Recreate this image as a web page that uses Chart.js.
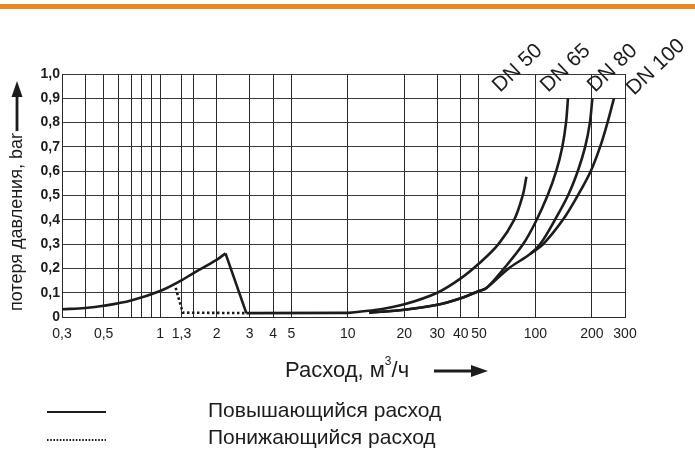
<!DOCTYPE html>
<html>
<head>
<meta charset="utf-8">
<script src="https://cdn.jsdelivr.net/npm/chart.js@4"></script>
<style>
  html, body { margin: 0; padding: 0; background: #fff; }
  #wrap { width: 695px; height: 455px; }
</style>
</head>
<body>
<div id="wrap"><canvas id="c" width="695" height="455"></canvas></div>
<script>
// сетка и подписи оси X
const xGrid = [0.3, 0.4, 0.5, 0.6, 0.7, 0.8, 0.9, 1, 1.3, 1.5, 2, 3, 4, 5, 10, 20, 30, 40, 50, 100, 200, 300];
const xLabels = ['0,3', '', '0,5', '', '', '', '', '1', '1,3', '', '2', '3', '4', '5', '10', '20', '30', '40', '50', '100', '200', '300'];

// повышающийся расход
const riseX = [0.3, 0.4, 0.5, 0.7, 1, 1.3, 1.5, 2, 2.23];
const riseY = [0.032, 0.037, 0.046, 0.068, 0.107, 0.151, 0.18, 0.235, 0.262];
const dropX = [2.23, 2.88];
const dropY = [0.262, 0.016];
const flatX = [2.88, 10];
const flatY = [0.016, 0.017];

// понижающийся расход
const dotX = [1.21, 1.32, 2.88];
const dotY = [0.12, 0.018, 0.016];

// кривые DN
const dn50X = [10, 15, 20, 30, 40, 50, 63.5, 77, 85.5, 89.5];
const dn50Y = [0.017, 0.032, 0.052, 0.1, 0.159, 0.22, 0.3, 0.4, 0.5, 0.577];
const sharedX = [13, 20, 30, 40, 50, 54.6];
const sharedY = [0.018, 0.03, 0.05, 0.077, 0.107, 0.118];
const dn65X = [68, 86, 100, 116, 129, 139, 145.5, 149];
const dn65Y = [0.2, 0.3, 0.39, 0.5, 0.6, 0.7, 0.8, 0.9];
const dn80X = [72, 94, 106, 127, 149, 168, 184, 195, 201];
const dn80Y = [0.2, 0.26, 0.3, 0.4, 0.5, 0.6, 0.7, 0.8, 0.9];
const dn100X = [94, 110, 140, 168, 197, 221, 242, 262];
const dn100Y = [0.26, 0.3, 0.4, 0.5, 0.6, 0.7, 0.8, 0.9];

const dnNames = ['DN 50', 'DN 65', 'DN 80', 'DN 100'];

const pts = (xs, ys) => xs.map((x, i) => ({ x: x, y: ys[i] }));
const ink = '#1e1b1c';

function line(data, curved, dashed) {
  return {
    data: data,
    borderColor: ink,
    borderWidth: 2.6,
    pointRadius: 0,
    fill: false,
    tension: curved ? 0.35 : 0,
    borderDash: dashed ? [2.5, 2.5] : [],
    borderCapStyle: 'butt'
  };
}

const font = 'Liberation Sans, Arial, sans-serif';

const extras = {
  id: 'extras',
  afterDraw(chart) {
    const ctx = chart.ctx;
    ctx.save();
    // оранжевая полоса сверху
    ctx.fillStyle = '#ef8420';
    ctx.fillRect(0, 4, 695, 5);

    ctx.fillStyle = ink;
    ctx.strokeStyle = ink;

    // подписи DN
    ctx.font = '21px ' + font;
    ctx.textAlign = 'left';
    ctx.textBaseline = 'alphabetic';
    const dnPos = [[500, 93], [548, 93], [595, 93], [634, 96]];
    dnNames.forEach((t, i) => {
      ctx.save();
      ctx.translate(dnPos[i][0], dnPos[i][1]);
      ctx.rotate(-0.76);
      ctx.fillText(t, 0, 0);
      ctx.restore();
    });

    // подпись оси Y со стрелкой
    const yTitle = 'потеря давления, bar';
    ctx.font = '18px ' + font;
    const tw = ctx.measureText(yTitle).width;
    ctx.save();
    ctx.translate(22, 311);
    ctx.rotate(-Math.PI / 2);
    ctx.textAlign = 'left';
    ctx.fillText(yTitle, 0, 0);
    ctx.restore();
    ctx.lineWidth = 2.8;
    ctx.beginPath();
    ctx.moveTo(17, 311 - tw - 2);
    ctx.lineTo(17, 92);
    ctx.stroke();
    ctx.beginPath();
    ctx.moveTo(17, 81);
    ctx.lineTo(11.5, 97);
    ctx.lineTo(22.5, 97);
    ctx.closePath();
    ctx.fill();

    // подпись оси X со стрелкой
    ctx.font = '22px ' + font;
    ctx.textBaseline = 'middle';
    ctx.textAlign = 'left';
    ctx.fillText('Расход, м', 285, 371);
    let w = ctx.measureText('Расход, м').width;
    ctx.font = '12px ' + font;
    ctx.fillText('3', 285 + w, 362);
    let w2 = ctx.measureText('3').width;
    ctx.font = '22px ' + font;
    ctx.fillText('/ч', 285 + w + w2, 371);
    ctx.beginPath();
    ctx.moveTo(434, 371);
    ctx.lineTo(474, 371);
    ctx.stroke();
    ctx.beginPath();
    ctx.moveTo(488, 371);
    ctx.lineTo(471, 365);
    ctx.lineTo(471, 377);
    ctx.closePath();
    ctx.fill();

    // легенда
    ctx.lineWidth = 2.2;
    ctx.beginPath();
    ctx.moveTo(47, 412);
    ctx.lineTo(106, 412);
    ctx.stroke();
    ctx.setLineDash([1.6, 1.6]);
    ctx.lineWidth = 2;
    ctx.beginPath();
    ctx.moveTo(47, 440);
    ctx.lineTo(106, 440);
    ctx.stroke();
    ctx.setLineDash([]);
    ctx.font = '21px ' + font;
    ctx.fillText('Повышающийся расход', 208, 411);
    ctx.fillText('Понижающийся расход', 208, 438);
    ctx.restore();
  }
};

new Chart(document.getElementById('c'), {
  type: 'line',
  plugins: [extras],
  data: {
    datasets: [
      line(pts(riseX, riseY), true, false),
      line(pts(dropX, dropY), false, false),
      line(pts(flatX, flatY), false, false),
      line(pts(dotX, dotY), false, true),
      line(pts(dn50X, dn50Y), true, false),
      line(pts(sharedX.concat(dn65X), sharedY.concat(dn65Y)), true, false),
      line(pts(sharedX.concat(dn80X), sharedY.concat(dn80Y)), true, false),
      line(pts(dn100X, dn100Y), true, false)
    ]
  },
  options: {
    responsive: false,
    animation: false,
    devicePixelRatio: 1,
    layout: { padding: { left: 0, top: 74, right: 70, bottom: 0 } },
    plugins: { legend: { display: false }, tooltip: { enabled: false } },
    scales: {
      x: {
        type: 'logarithmic',
        min: 0.3,
        max: 300,
        afterBuildTicks: s => { s.ticks = xGrid.map(v => ({ value: v })); },
        afterFit: s => { s.height = 138; },
        grid: { color: '#2a2a2a', lineWidth: 1, drawTicks: false },
        border: { color: '#2a2a2a', width: 1 },
        ticks: {
          autoSkip: false,
          maxRotation: 0,
          padding: 9,
          color: '#1e1b1c',
          font: { family: font, size: 14 },
          callback: (v, i) => xLabels[i]
        }
      },
      y: {
        min: 0,
        max: 1,
        afterFit: s => { s.width = 62; },
        grid: { color: '#3a3a3a', lineWidth: 1, drawTicks: false },
        border: { color: '#2a2a2a', width: 1 },
        ticks: {
          stepSize: 0.1,
          padding: 2,
          color: '#1e1b1c',
          font: { family: font, size: 14, weight: 'bold' },
          callback: v => v === 0 ? '0' : v.toFixed(1).replace('.', ',')
        }
      }
    }
  }
});
</script>
</body>
</html>
